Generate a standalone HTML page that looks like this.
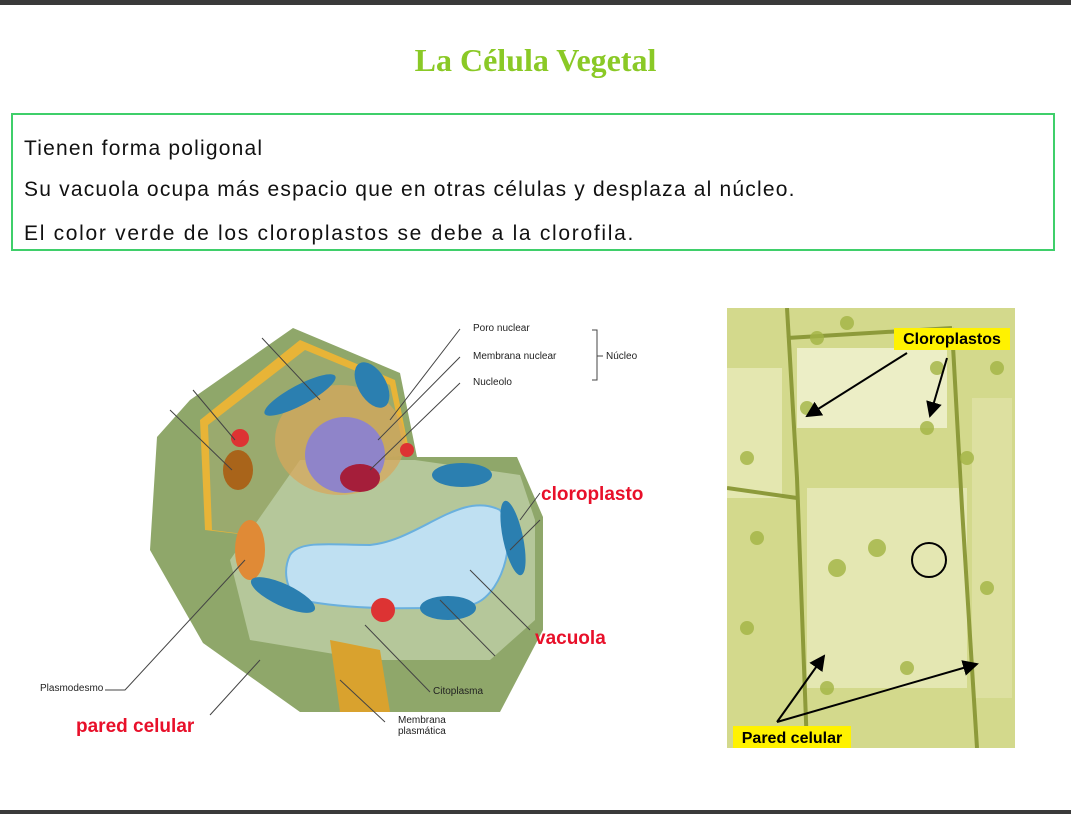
<!DOCTYPE html>
<html><head><style>
body{margin:0;width:1071px;height:814px;background:#fff;position:relative;overflow:hidden;font-family:"Liberation Sans",sans-serif}
.top{position:absolute;left:0;top:0;width:1071px;height:5px;background:#3a3a3a}
.bot{position:absolute;left:0;top:810px;width:1071px;height:4px;background:#3a3a3a}
h1{position:absolute;left:0;width:1071px;top:42px;margin:0;text-align:center;font:bold 32px "Liberation Serif",serif;color:#8ac926}
.box{position:absolute;left:11px;top:113px;width:1040px;height:134px;border:2px solid #3fcf6a}
.box p{margin:0;position:absolute;left:11px;font-size:21px;color:#111;letter-spacing:1.2px}
.lbl{position:absolute;font-size:10px;color:#222}
.red{position:absolute;color:#e8102a;font-weight:bold;font-size:19px}
</style></head><body>
<div class="top"></div><div class="bot"></div>
<h1>La Célula Vegetal</h1>
<div class="box">
<p style="top:22px">Tienen forma poligonal</p>
<p style="top:63px">Su vacuola ocupa más espacio que en otras células y desplaza al núcleo.</p>
<p style="top:107px;letter-spacing:1.7px">El color verde de los cloroplastos se debe a la clorofila.</p>
</div>
<svg style="position:absolute;left:0;top:0" width="1071" height="814">
<polygon points="293,328 400,373 417,457 517,457 543,517 543,630 500,712 300,712 203,643 150,550 157,437 190,400" fill="#8fa76a"/>
<polygon points="300,340 395,380 410,455 330,462 320,520 290,540 205,530 200,420" fill="#e8b437"/>
<polygon points="305,350 390,385 405,455 330,465 320,530 290,540 212,530 208,425" fill="#9aaa6e"/>
<polygon points="300,460 415,460 520,475 535,520 535,620 490,660 370,660 250,640 230,560" fill="#b5c79a"/>
<polygon points="330,640 380,650 390,712 340,712" fill="#d9a22e"/>
<path d="M290,555 C300,540 330,545 370,545 C420,540 460,490 500,510 C520,540 500,600 470,605 C420,610 350,610 300,600 C285,590 283,570 290,555Z" fill="#bfe0f2" stroke="#6ab0dd" stroke-width="2"/>
<ellipse cx="340" cy="440" rx="65" ry="55" fill="#d9a65a" opacity=".7"/>
<ellipse cx="345" cy="455" rx="40" ry="38" fill="#8f84c9"/>
<ellipse cx="360" cy="478" rx="20" ry="14" fill="#a51e3a"/>
<ellipse cx="238" cy="470" rx="15" ry="20" fill="#a9641a"/>
<ellipse cx="250" cy="550" rx="15" ry="30" fill="#e08a36"/>
<circle cx="240" cy="438" r="9" fill="#d33"/><circle cx="407" cy="450" r="7" fill="#d33"/><circle cx="383" cy="610" r="12" fill="#d33"/>
<ellipse cx="300" cy="395" rx="40" ry="10" fill="#2b7fb0" transform="rotate(-28 300 395)"/>
<ellipse cx="372" cy="385" rx="14" ry="25" fill="#2b7fb0" transform="rotate(-30 372 385)"/>
<ellipse cx="462" cy="475" rx="30" ry="12" fill="#2b7fb0"/>
<ellipse cx="513" cy="538" rx="10" ry="38" fill="#2b7fb0" transform="rotate(-12 513 538)"/>
<ellipse cx="283" cy="595" rx="35" ry="11" fill="#2b7fb0" transform="rotate(25 283 595)"/>
<ellipse cx="448" cy="608" rx="28" ry="12" fill="#2b7fb0"/>
<g stroke="#444" stroke-width="1" fill="none">
<path d="M460,329 L390,420 M460,357 L378,440 M460,383 L370,470"/>
<path d="M592,330 h5 v50 h-5 M597,356 h6"/>
<path d="M262,338 L320,400 M193,390 L235,440 M170,410 L232,470"/>
<path d="M540,493 L520,520 M540,520 L510,550"/>
<path d="M530,630 L470,570 M495,656 L440,600"/>
<path d="M105,690 h20 L245,560 M210,715 L260,660"/>
<path d="M430,692 L365,625 M385,722 L340,680"/>
</g>
</svg>
<div class="lbl" style="left:473px;top:323px">Poro nuclear</div>
<div class="lbl" style="left:473px;top:351px">Membrana nuclear</div>
<div class="lbl" style="left:473px;top:377px">Nucleolo</div>
<div class="lbl" style="left:606px;top:351px">Núcleo</div>
<div class="lbl" style="left:40px;top:683px">Plasmodesmo</div>
<div class="lbl" style="left:433px;top:686px">Citoplasma</div>
<div class="lbl" style="left:398px;top:715px;line-height:11px">Membrana<br>plasmática</div>
<div class="red" style="left:541px;top:484px">cloroplasto</div>
<div class="red" style="left:535px;top:628px">vacuola</div>
<div class="red" style="left:76px;top:716px">pared celular</div>
<svg style="position:absolute;left:727px;top:308px" width="288" height="440">
<defs><marker id="a" markerWidth="8" markerHeight="8" refX="7" refY="4" orient="auto"><path d="M0,0 L8,4 L0,8Z" fill="#000"/></marker></defs>
<rect width="288" height="440" fill="#d3d98c"/>
<rect x="70" y="40" width="150" height="80" fill="#eceec6"/>
<rect x="80" y="180" width="160" height="200" fill="#e4e7b2"/>
<rect x="0" y="60" width="55" height="130" fill="#e4e7b0"/>
<rect x="245" y="90" width="40" height="300" fill="#dde0a0"/>
<g stroke="#8d9a3a" stroke-width="4" fill="none">
<path d="M60,0 L70,170 L80,440"/><path d="M225,20 L235,200 L250,440"/><path d="M60,30 L225,20"/><path d="M0,180 L70,190"/>
</g>
<g fill="#a3b444" opacity=".8">
<circle cx="90" cy="30" r="7"/><circle cx="120" cy="15" r="7"/><circle cx="210" cy="60" r="7"/><circle cx="200" cy="120" r="7"/><circle cx="80" cy="100" r="7"/><circle cx="240" cy="150" r="7"/><circle cx="20" cy="150" r="7"/><circle cx="30" cy="230" r="7"/><circle cx="110" cy="260" r="9"/><circle cx="150" cy="240" r="9"/><circle cx="260" cy="280" r="7"/><circle cx="20" cy="320" r="7"/><circle cx="180" cy="360" r="7"/><circle cx="100" cy="380" r="7"/><circle cx="270" cy="60" r="7"/>
</g>
<circle cx="202" cy="252" r="17" fill="none" stroke="#000" stroke-width="2"/>
<g stroke="#000" stroke-width="2" marker-end="url(#a)">
<path d="M180,45 L80,108"/><path d="M220,50 L203,108"/><path d="M50,414 L97,348"/><path d="M50,414 L250,356"/></g>
<rect x="167" y="20" width="116" height="22" fill="#fff200"/>
<text x="225" y="36" text-anchor="middle" font-weight="bold" font-size="16" font-family="Liberation Sans">Cloroplastos</text>
<rect x="6" y="418" width="118" height="22" fill="#fff200"/>
<text x="65" y="435" text-anchor="middle" font-weight="bold" font-size="16" font-family="Liberation Sans">Pared celular</text>
</svg>
</body></html>
